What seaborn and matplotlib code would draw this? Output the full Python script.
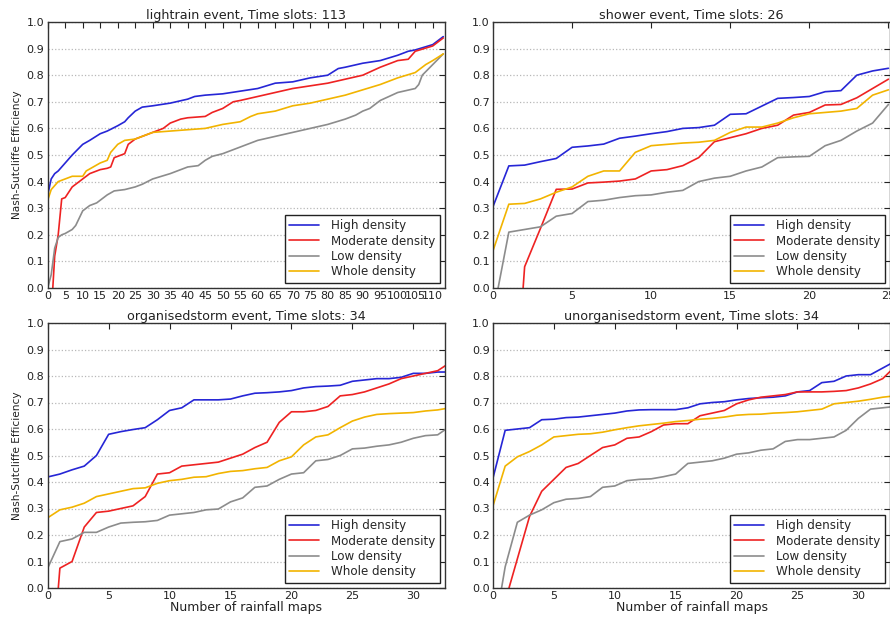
import numpy as np
import pandas as pd
import matplotlib
matplotlib.use("Agg")
import matplotlib.pyplot as plt
import seaborn as sns

# ---------------- data ----------------
series_names = ["High density", "Moderate density", "Low density", "Whole density"]
series_colors = ["#2626d6", "#ee2222", "#8c8c8c", "#f2b400"]

titles = ["lightrain event, Time slots: 113", "shower event, Time slots: 26",
          "organisedstorm event, Time slots: 34", "unorganisedstorm event, Time slots: 34"]

# lightrain (values read at selected numbers of maps)
lr_high_x = [0, 1, 2, 3, 5, 7, 10, 12, 15, 17, 20, 22, 23, 25, 27, 30, 35, 40, 42, 45, 50, 55, 60, 65, 70,
             75, 80, 83, 85, 90, 95, 100, 103, 105, 110, 113]
lr_high_y = [0.35, 0.41, 0.43, 0.44, 0.47, 0.50, 0.54, 0.555, 0.58, 0.59, 0.61, 0.625, 0.64, 0.665, 0.68,
             0.685, 0.695, 0.71, 0.72, 0.725, 0.73, 0.74, 0.75, 0.77, 0.775, 0.79, 0.80, 0.825, 0.83,
             0.845, 0.855, 0.875, 0.89, 0.895, 0.915, 0.945]
lr_mod_x = [0, 1, 2, 3, 4, 5, 7, 9, 10, 12, 15, 17, 18, 19, 20, 22, 23, 25, 27, 30, 33, 35, 38, 40, 45, 47,
            50, 53, 55, 60, 65, 70, 75, 80, 85, 90, 95, 100, 103, 105, 110, 113]
lr_mod_y = [-0.5, -0.1, 0.12, 0.2, 0.335, 0.34, 0.38, 0.40, 0.41, 0.43, 0.445, 0.45, 0.455, 0.49, 0.495,
            0.505, 0.54, 0.56, 0.57, 0.585, 0.60, 0.62, 0.635, 0.64, 0.645, 0.66, 0.675, 0.70, 0.705,
            0.72, 0.735, 0.75, 0.76, 0.77, 0.785, 0.80, 0.83, 0.855, 0.86, 0.89, 0.91, 0.94]
lr_low_x = [0, 1, 2, 3, 4, 5, 7, 8, 10, 12, 14, 17, 19, 22, 25, 27, 30, 35, 40, 43, 45, 47, 50, 55, 60, 65,
            70, 75, 80, 85, 88, 90, 92, 95, 100, 105, 106, 107, 110, 113]
lr_low_y = [0.0, 0.05, 0.15, 0.19, 0.20, 0.205, 0.22, 0.235, 0.29, 0.31, 0.32, 0.35, 0.365, 0.37, 0.38,
            0.39, 0.41, 0.43, 0.455, 0.46, 0.48, 0.495, 0.505, 0.53, 0.555, 0.57, 0.585, 0.60, 0.615,
            0.635, 0.65, 0.665, 0.675, 0.705, 0.735, 0.75, 0.765, 0.80, 0.84, 0.88]
lr_whole_x = [0, 1, 2, 3, 5, 7, 10, 11, 13, 15, 17, 18, 20, 22, 25, 28, 30, 35, 40, 45, 50, 55, 58, 60, 65,
              70, 75, 80, 85, 90, 95, 100, 105, 108, 110, 113]
lr_whole_y = [0.33, 0.37, 0.385, 0.40, 0.41, 0.42, 0.42, 0.44, 0.455, 0.47, 0.48, 0.51, 0.54, 0.555, 0.56,
              0.575, 0.585, 0.59, 0.595, 0.60, 0.615, 0.625, 0.645, 0.655, 0.665, 0.685, 0.695, 0.71,
              0.725, 0.745, 0.765, 0.79, 0.81, 0.84, 0.855, 0.88]

# shower (one value per number of maps, 0..25)
sh_high = [0.306, 0.459, 0.462, 0.475, 0.487, 0.529, 0.534, 0.541, 0.563, 0.571, 0.58, 0.588, 0.60,
           0.603, 0.612, 0.653, 0.655, 0.684, 0.713, 0.716, 0.72, 0.738, 0.742, 0.80, 0.816, 0.826]
sh_mod = [-1.5, -0.75, 0.08, 0.224, 0.371, 0.372, 0.395, 0.398, 0.402, 0.41, 0.44, 0.445, 0.46, 0.49,
          0.55, 0.565, 0.58, 0.60, 0.612, 0.65, 0.66, 0.688, 0.69, 0.715, 0.75, 0.785]
sh_low = [-0.1, 0.21, 0.22, 0.23, 0.27, 0.28, 0.325, 0.33, 0.34, 0.347, 0.35, 0.36, 0.367, 0.40, 0.413,
          0.42, 0.44, 0.455, 0.49, 0.493, 0.495, 0.535, 0.555, 0.59, 0.62, 0.69]
sh_whole = [0.14, 0.315, 0.318, 0.335, 0.36, 0.38, 0.42, 0.44, 0.44, 0.51, 0.535, 0.54, 0.545, 0.548,
            0.555, 0.585, 0.605, 0.605, 0.62, 0.64, 0.655, 0.66, 0.665, 0.675, 0.725, 0.745]

# organisedstorm (0..33)
os_high = [0.419, 0.43, 0.446, 0.46, 0.50, 0.58, 0.59, 0.598, 0.605, 0.635, 0.67, 0.68, 0.71, 0.71, 0.71,
           0.713, 0.725, 0.735, 0.737, 0.74, 0.745, 0.755, 0.76, 0.762, 0.765, 0.78, 0.785, 0.79, 0.79,
           0.795, 0.81, 0.81, 0.815, 0.815]
os_mod = [-0.5, 0.075, 0.10, 0.23, 0.285, 0.29, 0.30, 0.31, 0.345, 0.43, 0.435, 0.46, 0.465, 0.47, 0.475,
          0.49, 0.505, 0.53, 0.55, 0.625, 0.665, 0.665, 0.67, 0.685, 0.725, 0.73, 0.74, 0.755, 0.77,
          0.79, 0.80, 0.81, 0.82, 0.85]
os_low = [0.075, 0.175, 0.185, 0.21, 0.21, 0.23, 0.245, 0.248, 0.25, 0.255, 0.275, 0.28, 0.285, 0.295,
          0.298, 0.325, 0.34, 0.38, 0.385, 0.41, 0.43, 0.435, 0.48, 0.485, 0.50, 0.525, 0.528, 0.535,
          0.54, 0.55, 0.565, 0.575, 0.578, 0.61]
os_whole = [0.265, 0.295, 0.305, 0.32, 0.345, 0.355, 0.365, 0.375, 0.378, 0.395, 0.405, 0.41, 0.418, 0.42,
            0.432, 0.44, 0.443, 0.45, 0.455, 0.48, 0.495, 0.54, 0.57, 0.578, 0.605, 0.63, 0.645, 0.655,
            0.658, 0.66, 0.662, 0.668, 0.672, 0.68]

# unorganisedstorm (0..33)
us_high = [0.415, 0.595, 0.60, 0.605, 0.635, 0.637, 0.643, 0.645, 0.65, 0.655, 0.66, 0.668, 0.672, 0.673,
           0.673, 0.673, 0.68, 0.695, 0.70, 0.703, 0.71, 0.715, 0.718, 0.72, 0.725, 0.74, 0.745, 0.775,
           0.78, 0.80, 0.805, 0.805, 0.83, 0.855]
us_mod = [-0.5, -0.05, 0.11, 0.27, 0.365, 0.41, 0.455, 0.47, 0.50, 0.53, 0.54, 0.565, 0.57, 0.59, 0.615,
          0.62, 0.62, 0.65, 0.66, 0.67, 0.695, 0.71, 0.72, 0.725, 0.73, 0.74, 0.74, 0.74, 0.742, 0.745,
          0.755, 0.77, 0.79, 0.835]
us_low = [-0.19, 0.08, 0.248, 0.275, 0.295, 0.322, 0.335, 0.338, 0.345, 0.38, 0.385, 0.405, 0.41, 0.412,
          0.42, 0.43, 0.47, 0.475, 0.48, 0.49, 0.505, 0.51, 0.52, 0.525, 0.553, 0.56, 0.56, 0.565, 0.57,
          0.595, 0.64, 0.675, 0.68, 0.685]
us_whole = [0.31, 0.46, 0.495, 0.515, 0.54, 0.57, 0.575, 0.58, 0.582, 0.588, 0.597, 0.605, 0.612, 0.617,
            0.622, 0.628, 0.632, 0.637, 0.64, 0.645, 0.652, 0.655, 0.656, 0.66, 0.662, 0.665, 0.67, 0.675,
            0.695, 0.70, 0.705, 0.712, 0.72, 0.725]

y_ticks = [0.0, 0.1, 0.2, 0.3, 0.4, 0.5, 0.6, 0.7, 0.8, 0.9, 1.0]
x_label = "Number of rainfall maps"
y_label = "Nash-Sutcliffe Efficiency"

# ---------------- assemble ----------------
def seq(vals):
    return list(range(len(vals)))

panels = [
    [(lr_high_x, lr_high_y), (lr_mod_x, lr_mod_y), (lr_low_x, lr_low_y), (lr_whole_x, lr_whole_y)],
    [(seq(sh_high), sh_high), (seq(sh_mod), sh_mod), (seq(sh_low), sh_low), (seq(sh_whole), sh_whole)],
    [(seq(os_high), os_high), (seq(os_mod), os_mod), (seq(os_low), os_low), (seq(os_whole), os_whole)],
    [(seq(us_high), us_high), (seq(us_mod), us_mod), (seq(us_low), us_low), (seq(us_whole), us_whole)],
]
xlims = [(0, 113.5), (0, 25.1), (0, 32.6), (0, 32.6)]
xtick_sets = [list(range(0, 111, 5)), list(range(0, 26, 5)), list(range(0, 31, 5)), list(range(0, 31, 5))]

sns.set_style("white")
plt.rcParams["font.family"] = ["DejaVu Sans"]

W, H = 890, 617
fig = plt.figure(figsize=(W / 100, H / 100), dpi=100)
boxes = [(47.7, 22, 445, 288), (493, 22, 890, 288), (47.7, 323, 445, 588), (493, 323, 890, 588)]

for i, (x0, y0, x1, y1) in enumerate(boxes):
    ax = fig.add_axes([x0 / W, 1 - y1 / H, (x1 - x0) / W, (y1 - y0) / H])
    rows = []
    for name, (xs, ys) in zip(series_names, panels[i]):
        for xv, yv in zip(xs, ys):
            rows.append({"maps": xv, "nse": yv, "series": name})
    df = pd.DataFrame(rows)
    sns.lineplot(data=df, x="maps", y="nse", hue="series", hue_order=series_names,
                 palette=dict(zip(series_names, series_colors)), linewidth=1.2,
                 estimator=None, sort=True, ax=ax)
    ax.set_xlim(*xlims[i])
    ax.set_ylim(0, 1.0)
    ax.set_yticks(y_ticks)
    ax.set_yticklabels([f"{v:.1f}" for v in y_ticks])
    ax.set_xticks(xtick_sets[i])
    ax.set_xticklabels([str(v) for v in xtick_sets[i]])
    ax.tick_params(direction="in", length=4, width=0.8, top=True, right=True,
                   labelsize=8, colors="#222222", pad=2.5)
    ax.yaxis.grid(True, linestyle=":", color="#b8b8b8", linewidth=0.9)
    ax.xaxis.grid(False)
    for s in ax.spines.values():
        s.set_color("#333333")
        s.set_linewidth(1.0)
    ax.set_title(titles[i], fontsize=9.2, pad=2, color="#222222")
    ax.set_xlabel(x_label if i >= 2 else "", fontsize=9, labelpad=0, color="#222222")
    ax.set_ylabel(y_label if i % 2 == 0 else "", fontsize=7.6, labelpad=3, color="#222222")
    leg = ax.legend(loc="lower right", fontsize=8.6, frameon=True, fancybox=False,
                    edgecolor="#222222", framealpha=1, borderaxespad=0.45,
                    handlelength=2.5, labelspacing=0.2, borderpad=0.35, handletextpad=1.0)
    leg.get_frame().set_linewidth(1.0)
    for line in leg.get_lines():
        line.set_linewidth(1.2)

fig.savefig("out.png", dpi=100)
